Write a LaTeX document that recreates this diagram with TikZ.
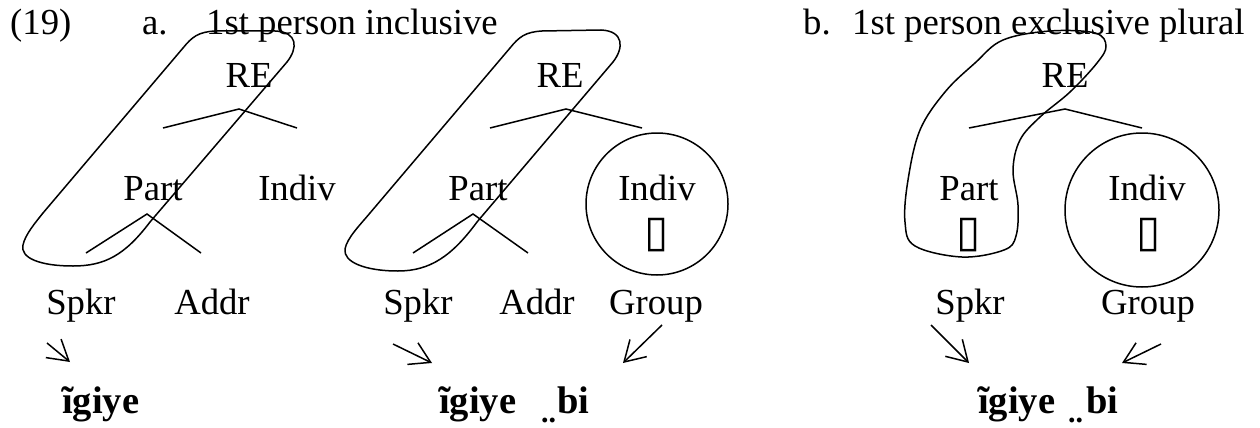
\documentclass[tikz,border=0pt]{standalone}
\usepackage{fontspec}
\setmainfont{Liberation Serif}
\newfontfamily\symfont{DejaVu Sans}
\usetikzlibrary{arrows.meta}

\tikzset{
  lbl/.style={inner sep=0pt, anchor=base, font=\fontsize{36.7}{40}\selectfont},
  lblw/.style={lbl, anchor=base west},
  form/.style={inner sep=0pt, anchor=base west, font=\fontsize{38.5}{42}\selectfont\bfseries},
  dots/.style={inner sep=0pt, anchor=base west, font=\fontsize{30}{32}\selectfont\bfseries},
  slot/.style={inner sep=0pt, font=\fontsize{44}{46}\selectfont\symfont},
  branch/.style={line width=1.5pt},
  loop/.style={line width=1.5pt, line join=round},
  maps/.style={line width=1.5pt, -{Straight Barb[length=20pt, width=24pt, line width=1.5pt]}}
}

\begin{document}
\begin{tikzpicture}[x=1pt, y=-1pt]
\useasboundingbox (0,0) rectangle (1260,428);

% headings
\node[lblw] (num) at (10,35) {(19)};
\node[lblw] (la) at (142,35) {a.};
\node[lblw] (ta) at (206,35) {1st person inclusive};
\node[lblw] (lb) at (803,35) {b.};
\node[lblw] (tb) at (852,35) {1st person exclusive plural};

% ---------- tree (a) ----------
\node[lbl] (reA) at (249,87) {RE};
\node[lbl] (partA) at (153,200) {Part};
\node[lbl] (indivA) at (297,200) {Indiv};
\node[lbl] (spkrA) at (81,314) {Spkr};
\node[lbl] (addrA) at (212,314) {Addr};
\node[form] (formA) at (62,413) {ĩgiye};

\coordinate (topA) at (239,109);
\coordinate (lA) at (163,128);
\coordinate (rA) at (297,128);
\coordinate (midA) at (147,214);
\coordinate (llA) at (86,253);
\coordinate (lrA) at (201,253);
\draw[branch] (lA) -- (topA) -- (rA);
\draw[branch] (llA) -- (midA) -- (lrA);

\coordinate (sA1) at (47,343);
\coordinate (sA2) at (70,362);
\draw[maps] (sA1) -- (sA2);

\draw[loop] (43,213) -- (183,48) .. controls (192,37) and (198,32) .. (215,31)
  -- (275,31) .. controls (298,32) and (298,48) .. (287,62)
  -- (150,222) .. controls (125,255) and (105,266) .. (73,266)
  .. controls (40,266) and (20,258) .. (23,245)
  .. controls (25,235) and (35,223) .. (43,213) -- cycle;

% ---------- tree (a, with group) ----------
\node[lbl] (reB) at (560,87) {RE};
\node[lbl] (partB) at (478,200) {Part};
\node[lbl] (indivB) at (657,200) {Indiv};
\node[slot] (slotB) at (657,235) {▯};
\node[lbl] (spkrB) at (418,314) {Spkr};
\node[lbl] (addrB) at (537,314) {Addr};
\node[lbl] (groupB) at (656,314) {Group};
\node[form] (formB) at (439,413) {ĩgiye};
\node[dots] (dotB) at (541,422) {..};
\node[form] (biB) at (557,413) {bi};

\coordinate (topB) at (566,109);
\coordinate (lB) at (490,128);
\coordinate (rB) at (642,128);
\coordinate (midB) at (473,214);
\coordinate (llB) at (413,253);
\coordinate (lrB) at (528,253);
\draw[branch] (lB) -- (topB) -- (rB);
\draw[branch] (llB) -- (midB) -- (lrB);

\coordinate (sB1) at (393,344);
\coordinate (sB2) at (432,363);
\coordinate (gB1) at (662,325);
\coordinate (gB2) at (623,363);
\draw[maps] (sB1) -- (sB2);
\draw[maps] (gB1) -- (gB2);

\draw[loop] (370,213) -- (510,48) .. controls (519,37) and (525,32) .. (542,31)
  -- (601,30) .. controls (624,31) and (624,48) .. (613,62)
  -- (477,222) .. controls (452,256) and (430,271) .. (398,271)
  .. controls (365,271) and (343,262) .. (345,249)
  .. controls (347,238) and (360,225) .. (370,213) -- cycle;
\draw[loop] (657,204) circle[radius=71];

% ---------- tree (b) ----------
\node[lbl] (reC) at (1065,87) {RE};
\node[lbl] (partC) at (969,200) {Part};
\node[slot] (slotC1) at (969,235) {▯};
\node[lbl] (indivC) at (1147,200) {Indiv};
\node[slot] (slotC2) at (1149,235) {▯};
\node[lbl] (spkrC) at (970,314) {Spkr};
\node[lbl] (groupC) at (1148,314) {Group};
\node[form] (formC) at (978,413) {ĩgiye};
\node[dots] (dotC) at (1068,422) {..};
\node[form] (biC) at (1086,413) {bi};

\coordinate (topC) at (1065,109);
\coordinate (lC) at (969,128);
\coordinate (rC) at (1142,128);
\draw[branch] (lC) -- (topC) -- (rC);

\coordinate (sC1) at (931,325);
\coordinate (sC2) at (969,363);
\coordinate (gC1) at (1161,344);
\coordinate (gC2) at (1122,363);
\draw[maps] (sC1) -- (sC2);
\draw[maps] (gC1) -- (gC2);

\draw[loop] plot[smooth cycle, tension=0.6] coordinates {
  (1003,40) (1050,31) (1095,33) (1106,46) (1097,63) (1070,92) (1040,117)
  (1020,140) (1013,170) (1018,205) (1016,236) (1004,250) (962,257)
  (915,246) (905,222) (908,180) (920,130) (945,92) (975,63)};
\draw[loop] (1142,210) circle[radius=77];

\end{tikzpicture}
\end{document}
